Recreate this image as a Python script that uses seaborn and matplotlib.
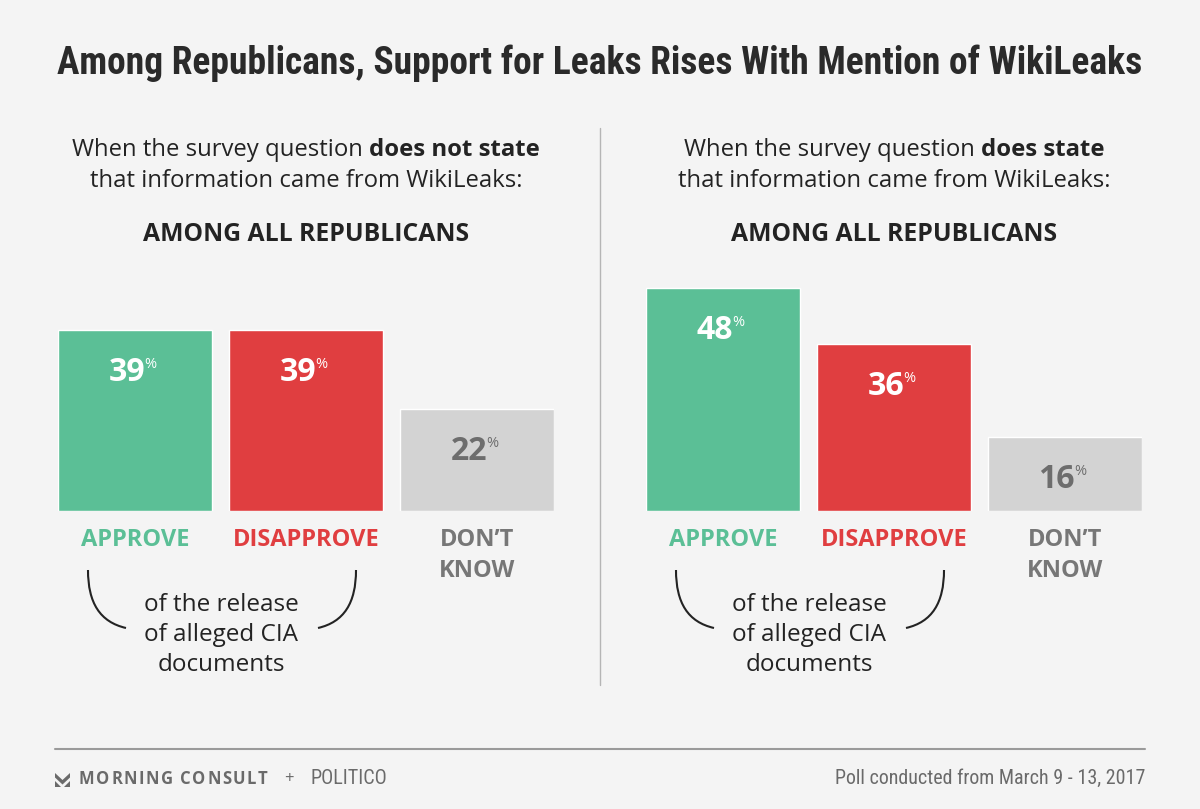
import matplotlib
matplotlib.use("Agg")
import matplotlib.pyplot as plt
from matplotlib import font_manager as fm
from matplotlib.path import Path
from matplotlib.patches import PathPatch, Polygon
import pandas as pd
import seaborn as sns

# survey answers and shares (%)
categories = ["APPROVE", "DISAPPROVE", "DON\u2019T\nKNOW"]
no_mention = [39, 39, 22]
with_mention = [48, 36, 16]
intro_bold = ["does not state", "does state"]

title = "Among Republicans, Support for Leaks Rises With Mention of WikiLeaks"
group_label = "AMONG ALL REPUBLICANS"
bracket_note = "of the release\nof alleged CIA\ndocuments"
source_note = "Poll conducted from March 9 - 13, 2017"

BG = "#f4f4f4"
GREEN = "#5bbf96"
RED = "#e03e40"
GRAY_BAR = "#d3d3d3"
GRAY_TXT = "#777777"
FOOT = "#6a6a6a"
INK = "#232323"
bar_colors = dict(zip(categories, [GREEN, RED, GRAY_BAR]))
label_colors = [GREEN, RED, GRAY_TXT]
value_colors = ["white", "white", "#6d6d6d"]

BODY = ["Open Sans", "DejaVu Sans"]

# pick a condensed face if one is installed
COND, COND_STRETCH = ["Roboto", "DejaVu Sans"], "normal"
for f in fm.fontManager.ttflist:
    if f.name in ("Roboto Condensed", "Liberation Sans Narrow"):
        COND = [f.name, "DejaVu Sans"]
        break
    if f.name in ("Roboto", "DejaVu Sans", "Open Sans", "Noto Sans") and str(f.stretch) in (
            "condensed", "semi-condensed", "extra-condensed"):
        COND, COND_STRETCH = [f.name, "DejaVu Sans"], "condensed"

sns.set_theme(style="white")
plt.rcParams["font.family"] = BODY

W, H = 1200, 809
fig = plt.figure(figsize=(W / 100, H / 100), dpi=100, facecolor=BG)
# overlay in image pixel coordinates for the text and decorations
bg = fig.add_axes([0, 0, 1, 1], zorder=0)
bg.set_xlim(0, W)
bg.set_ylim(H, 0)
bg.axis("off")
renderer = fig.canvas.get_renderer()


def px_width(t):
    return t.get_window_extent(renderer=renderer).width


def fit_width(t, width):
    t.set_fontsize(t.get_fontsize() * width / px_width(t))


def mixed_line(xc, y, parts, size):
    texts = [bg.text(0, y, s, fontsize=size, fontweight=w, color=INK, va="center", ha="left")
             for s, w in parts]
    probe1 = bg.text(0, 0, "x x", fontsize=size)
    probe2 = bg.text(0, 0, "xx", fontsize=size)
    space = px_width(probe1) - px_width(probe2)
    probe1.remove()
    probe2.remove()
    widths = [px_width(t) for t in texts]
    total = sum(widths) + space * (len(texts) - 1)
    x = xc - total / 2
    for t, w in zip(texts, widths):
        t.set_x(x)
        x += w + space


def tracked(x, y, s, size, track, **kw):
    # letter-spaced text, one glyph at a time
    for ch in s:
        t = bg.text(x, y, ch, fontsize=size, ha="left", va="center", **kw)
        x += px_width(t) + track if ch != " " else size * 0.45
    return x


def bracket(x0, x1):
    # curved brace lines that link the first two answers to the note
    for a, b, s in [(x0, x0 + 38, 1), (x1, x1 - 38, -1)]:
        verts = [(a, 570), (a, 603), (a + s * 12, 622), (b, 628)]
        codes = [Path.MOVETO, Path.CURVE4, Path.CURVE4, Path.CURVE4]
        bg.add_patch(PathPatch(Path(verts, codes), fill=False, lw=1.5, color=INK))


def draw_panel(left, values, bold_part):
    x0, x1 = left, left + 496
    ax = fig.add_axes([x0 / W, (H - 511) / H, 496 / W, 232 / H], zorder=1)
    ax.patch.set_alpha(0)
    df = pd.DataFrame({"answer": categories, "share": values})
    sns.barplot(data=df, x="answer", y="share", hue="answer", palette=bar_colors,
                saturation=1, width=0.9, legend=False, ax=ax)
    ax.set_xlim(-0.45, 2.45)
    ax.set_ylim(0, 50)
    ax.axis("off")
    for i, v in enumerate(values):
        ax.annotate(f"{v}", (i, v), xytext=(10, -26), textcoords="offset pixels",
                    ha="right", va="top", fontsize=23, fontweight="bold", color=value_colors[i])
        ax.annotate("%", (i, v), xytext=(9, -27), textcoords="offset pixels",
                    ha="left", va="top", fontsize=10.5, color=value_colors[i])
        ax.annotate(categories[i], (i, 0), xytext=(0, -17), textcoords="offset pixels",
                    ha="center", va="top", fontsize=17, fontweight="bold",
                    color=label_colors[i], linespacing=1.4)

    xc = (x0 + x1) / 2
    mixed_line(xc, 150, [("When the survey question", "normal"), (bold_part, "bold")], 17.2)
    bg.text(xc, 181, "that information came from WikiLeaks:", fontsize=17.2, color=INK,
            ha="center", va="center")
    bg.text(xc, 234, group_label, fontsize=17.8, fontweight="bold", color=INK,
            ha="center", va="center")

    bc = x0 + 163
    bg.text(bc, 635, bracket_note, fontsize=17.5, color=INK, ha="center", va="center",
            linespacing=1.36)
    bracket(x0 + 30, x0 + 298)


t = bg.text(W / 2, 63, title, fontsize=28, fontweight="bold", color="#2a2a2a",
            ha="center", va="center", family=COND, fontstretch=COND_STRETCH)
fit_width(t, 1086)

draw_panel(58, no_mention, intro_bold[0])
draw_panel(646, with_mention, intro_bold[1])

# divider and footer
bg.plot([600, 600], [128, 685], color="#b5b5b5", lw=1)
bg.plot([55, 1145], [749, 749], color="#9a9a9a", lw=1.5)
bg.add_patch(Polygon([(55, 773), (62.5, 780), (70, 773), (70, 777.5), (62.5, 784.5), (55, 777.5)],
                     closed=True, color=FOOT, lw=0))
bg.add_patch(Polygon([(55, 781), (55, 787), (61, 787)], closed=True, color=FOOT, lw=0))
bg.add_patch(Polygon([(70, 781), (70, 787), (64, 787)], closed=True, color=FOOT, lw=0))
tracked(79, 779, "MORNING CONSULT", 12, 1.6, fontweight="bold", color=FOOT)
bg.text(289, 779, "+", fontsize=12, color=FOOT, ha="center", va="center")
p = bg.text(311, 779, "POLITICO", fontsize=14, color=FOOT, ha="left", va="center",
            family=COND, fontstretch=COND_STRETCH)
fit_width(p, 77)
s = bg.text(1145, 778, source_note, fontsize=13, color=FOOT, ha="right", va="center",
            family=COND, fontstretch=COND_STRETCH)
fit_width(s, 309)

fig.savefig("out.png", dpi=100, facecolor=BG)
